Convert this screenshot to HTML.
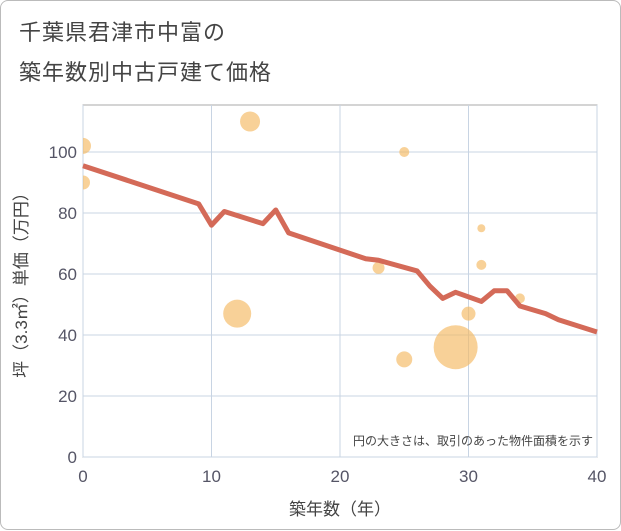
<!DOCTYPE html>
<html><head><meta charset="utf-8"><style>
body{margin:0;background:#fff;font-family:"Liberation Sans","Noto Sans CJK JP",sans-serif;}
#card{position:absolute;left:0;top:0;width:619px;height:528px;border:1px solid #bbb;border-radius:8px;background:#fff;}
.t{position:absolute;left:18px;font-size:22px;color:#444;letter-spacing:1px;}
</style></head><body>
<div id="card">
<div class="t" style="top:14px">千葉県君津市中富の</div>
<div class="t" style="top:54px">築年数別中古戸建て価格</div>
<svg id="s" width="621" height="530" style="position:absolute;left:0;top:0"><defs><clipPath id="pc"><rect x="82" y="104" width="514" height="352"/></clipPath></defs></svg>
</div>
<script>
const xTicks=[0,10,20,30,40];
const yTicks=[0,20,40,60,80,100];
const lineX=[0,9,10,11,14,15,16,22,23,26,27,28,29,31,32,33,34,36,37,40];
const lineY=[95.5,83,76,80.5,76.5,81,73.5,65,64.5,61,56,52,54,51,54.5,54.5,49.5,47,45,41];
const bubX=[0,0,13,12,25,23,25,29,30,31,31,34];
const bubY=[102,90,110,47,100,62,32,36,47,63,75,52];
const bubR=[8,7,10,14,5,6,8,22,7,5,4,5];
const L=82,R=596,T=104,B=456;
const sx=v=>L+(v/40)*(R-L);
const sy=v=>B-v*3.05;
const s=document.getElementById('s');
const NS='http://www.w3.org/2000/svg';
function mk(t,a,txt){const e=document.createElementNS(NS,t);for(const k in a)e.setAttribute(k,a[k]);if(txt!==undefined)e.textContent=txt;s.appendChild(e);return e;}
let e=mk('rect',{x:L,y:T,width:R-L,height:B-T,fill:'#fff',stroke:'#aaa'});

xTicks.forEach(v=>{let g=mk('line',{x1:sx(v),x2:sx(v),y1:T,y2:B,stroke:'#c8d4e3'});

let t=mk('text',{x:sx(v),y:B+25,'text-anchor':'middle','font-size':17,fill:'#556'},v);
});
yTicks.forEach(v=>{let g=mk('line',{x1:L,x2:R,y1:sy(v),y2:sy(v),stroke:'#c8d4e3'});

let t=mk('text',{x:L-6,y:sy(v)+6,'text-anchor':'end','font-size':17,fill:'#556'},v);
});
bubX.forEach((v,i)=>{let c=mk('circle',{cx:sx(v),cy:sy(bubY[i]),r:bubR[i],fill:'#f5b961',opacity:0.65,'clip-path':'url(#pc)'});
});
let p=mk('polyline',{points:lineX.map((v,i)=>sx(v)+','+sy(lineY[i])).join(' '),fill:'none',stroke:'#d46a58','stroke-width':5,'stroke-linejoin':'round'});

let n=mk('text',{x:R-4,y:B-12,'text-anchor':'end','font-size':12,fill:'#444'},'円の大きさは、取引のあった物件面積を示す');

let xt=mk('text',{x:(L+R)/2,y:514,'text-anchor':'middle','font-size':17,fill:'#444'},'築年数（年）');

let yt=mk('text',{x:0,y:0,'text-anchor':'middle','font-size':17,fill:'#444',transform:'translate(26,'+((T+B)/2)+') rotate(-90)'},'坪（3.3㎡）単価（万円）');

</script>
</body></html>
